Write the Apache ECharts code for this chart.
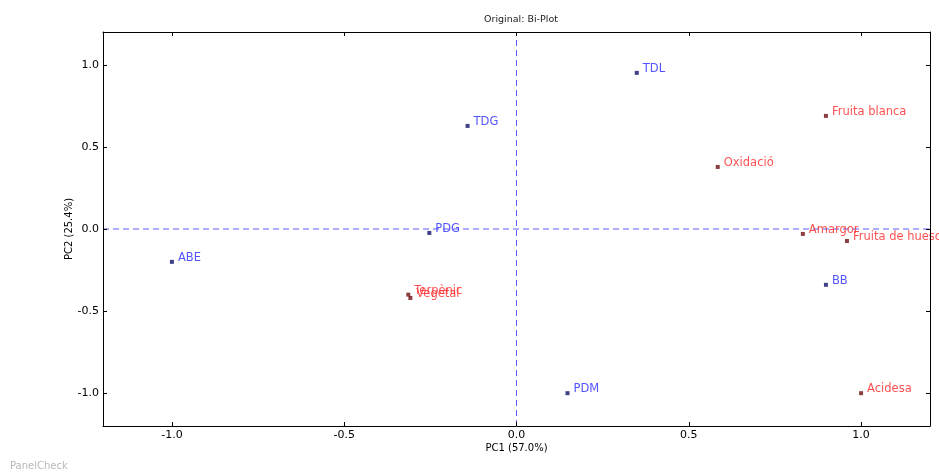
<!DOCTYPE html>
<html>
<head>
<meta charset="utf-8">
<script src="https://cdn.jsdelivr.net/npm/echarts@6/dist/echarts.min.js"></script>
<style>
  html, body { margin: 0; padding: 0; background: #fff; }
  #chart { width: 939px; height: 474px; }
</style>
</head>
<body>
<div id="chart"></div>
<script>
// Assessors / products (blue) and sensory attributes (red) on the first two PCs
const objectNames = ['TDL', 'TDG', 'PDG', 'ABE', 'PDM', 'BB'];
const objectPC1 = [0.349, -0.142, -0.253, -1.0, 0.148, 0.898];
const objectPC2 = [0.951, 0.628, -0.024, -0.20, -1.0, -0.34];

const attributeNames = ['Fruita blanca', 'Oxidació', 'Amargor', 'Fruita de hueso', 'Acidesa', 'Terpènic', 'Vegetal'];
const attributePC1 = [0.898, 0.584, 0.831, 0.959, 1.0, -0.314, -0.308];
const attributePC2 = [0.689, 0.378, -0.03, -0.073, -1.0, -0.40, -0.42];

const tickValues = [-1.0, -0.5, 0.0, 0.5, 1.0];
const axisRange = [-1.2, 1.2];

const FONT = 'DejaVu Sans';
const ZERO_LINE = { color: '#5c5cff', type: [6, 4], width: 1 };

function toPoints(names, xs, ys) {
  return names.map((n, i) => ({ name: n, value: [xs[i], ys[i]] }));
}

function mainAxis(name, pos, gap, nameRotate) {
  return {
    type: 'value', position: pos, min: axisRange[0], max: axisRange[1], z: 10,
    name: name, nameLocation: 'middle', nameGap: gap, nameRotate: nameRotate,
    nameMoveOverlap: false,
    nameTextStyle: { fontFamily: FONT, fontSize: 10, color: '#000' },
    axisLine: { show: true, onZero: false, lineStyle: { color: '#000', width: 1 } },
    axisTick: { show: true, inside: true, length: 4, customValues: tickValues, lineStyle: { color: '#000' } },
    axisLabel: {
      show: true, customValues: tickValues, margin: 4,
      fontFamily: FONT, fontSize: 11, color: '#000',
      formatter: v => v.toFixed(1)
    },
    splitLine: { show: false }
  };
}

function mirrorAxis(pos) {
  return {
    type: 'value', position: pos, min: axisRange[0], max: axisRange[1], z: 10,
    axisLine: { show: true, onZero: false, lineStyle: { color: '#000', width: 1 } },
    axisTick: { show: true, inside: true, length: 4, customValues: tickValues, lineStyle: { color: '#000' } },
    axisLabel: { show: false },
    splitLine: { show: false }
  };
}

function labelled(color) {
  return {
    show: true, position: 'right', distance: 4, offset: [0, -4],
    formatter: '{b}', fontFamily: FONT, fontSize: 11.5, color: color
  };
}

function zeroLine(points) {
  return {
    type: 'line', data: points, symbol: 'none', silent: true,
    lineStyle: ZERO_LINE, z: 1
  };
}

const chart = echarts.init(document.getElementById('chart'), null, { renderer: 'canvas' });

chart.setOption({
  animation: false,
  backgroundColor: '#fff',
  title: {
    text: 'Original: Bi-Plot',
    left: 516, top: 10, textAlign: 'center',
    textStyle: { fontFamily: FONT, fontSize: 9.5, fontWeight: 'normal', color: '#222' }
  },
  grid: { left: 103, right: 9, top: 32, bottom: 48, containLabel: false },
  xAxis: [mainAxis('PC1 (57.0%)', 'bottom', 17, 0), mirrorAxis('top')],
  yAxis: [mainAxis('PC2 (25.4%)', 'left', 29, 90), mirrorAxis('right')],
  graphic: [
    { type: 'text', left: 10, top: 461, z: 100,
      style: { text: 'PanelCheck', fontFamily: FONT, fontSize: 10, fill: '#b8b8b8' } }
  ],
  series: [
    zeroLine([[0, axisRange[0]], [0, axisRange[1]]]),
    zeroLine([[axisRange[0], 0], [axisRange[1], 0]]),
    {
      type: 'scatter', name: 'objects',
      data: toPoints(objectNames, objectPC1, objectPC2),
      symbol: 'rect', symbolSize: 4,
      itemStyle: { color: '#10106a' },
      label: labelled('#2727ff'),
      z: 3
    },
    {
      type: 'scatter', name: 'attributes',
      data: toPoints(attributeNames, attributePC1, attributePC2),
      symbol: 'rect', symbolSize: 4,
      itemStyle: { color: '#6e1010' },
      label: labelled('#ff2424'),
      z: 4
    }
  ]
});
</script>
</body>
</html>
